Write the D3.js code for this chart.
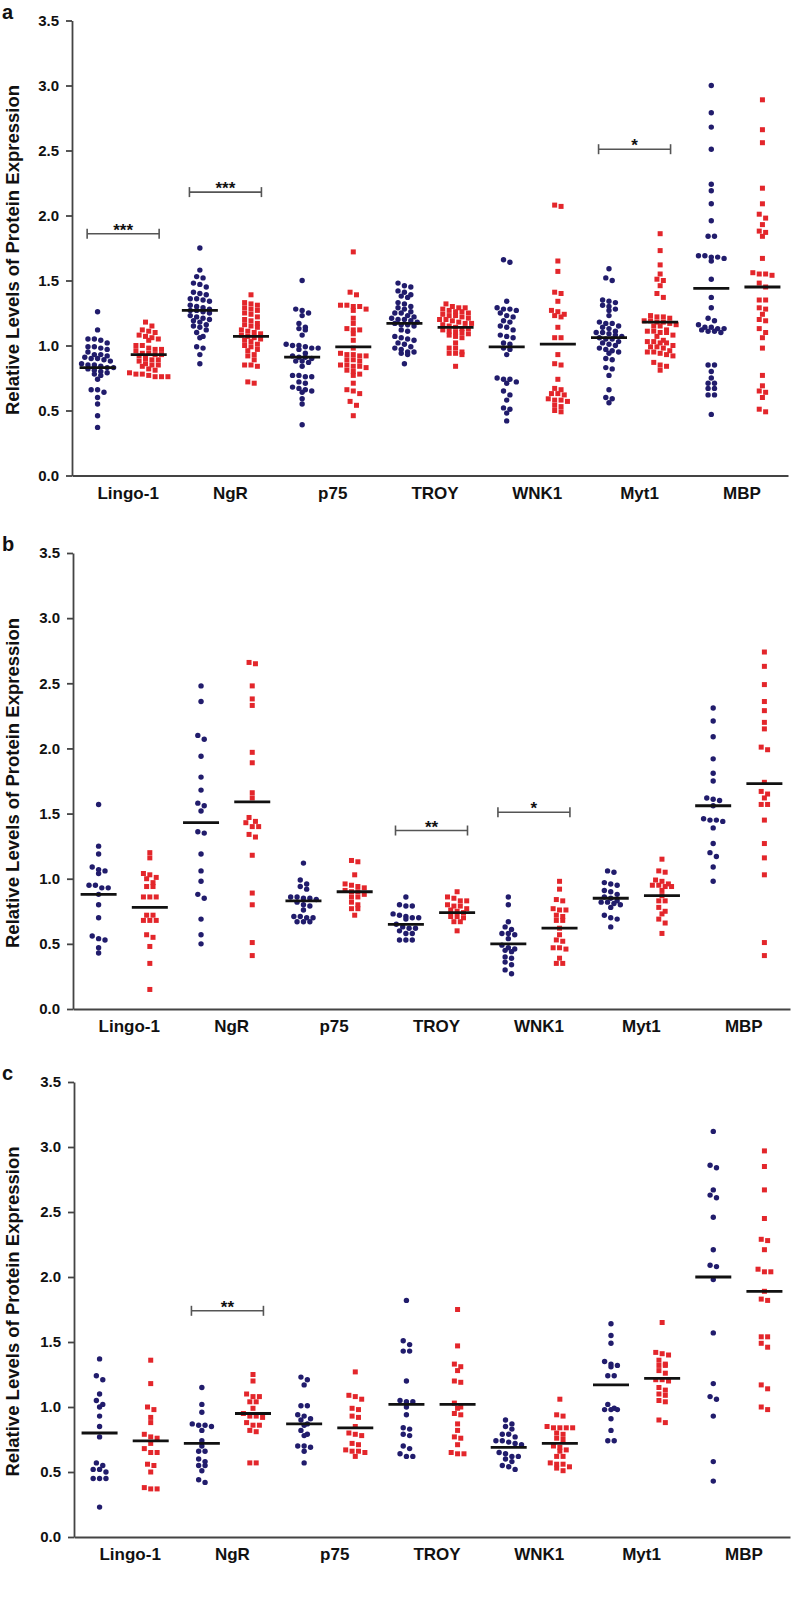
<!DOCTYPE html>
<html><head><meta charset="utf-8">
<script src="https://cdn.jsdelivr.net/npm/d3@7/dist/d3.min.js"></script>
<style>body{margin:0;background:#fff}svg{display:block}</style>
</head><body>
<script>
// ---------- DATA ----------
const categories = ["Lingo-1","NgR","p75","TROY","WNK1","Myt1","MBP"];
const groups = ["blue","red"];
const yTicks = [0,0.5,1.0,1.5,2.0,2.5,3.0,3.5];
const panelLetters = ["a","b","c"];
const yTitle = "Relative Levels of Protein Expression";

const aBlue = [
 [1.26,1.12,1.05,1.05,1.04,1.02,0.99,0.99,0.98,0.97,0.95,0.93,0.93,0.92,0.91,0.90,0.90,0.89,0.88,0.86,0.85,0.85,0.84,0.83,0.83,0.82,0.81,0.80,0.79,0.78,0.77,0.74,0.66,0.66,0.64,0.60,0.55,0.46,0.37],
 [1.75,1.58,1.53,1.52,1.48,1.47,1.45,1.41,1.40,1.39,1.36,1.36,1.35,1.34,1.31,1.30,1.29,1.28,1.27,1.27,1.26,1.25,1.23,1.22,1.21,1.20,1.19,1.18,1.16,1.15,1.14,1.12,1.10,1.07,1.06,0.99,0.98,0.93,0.86],
 [1.50,1.28,1.27,1.25,1.23,1.17,1.14,1.13,1.12,1.08,1.01,1.00,1.00,0.99,0.98,0.98,0.97,0.94,0.92,0.91,0.91,0.90,0.88,0.88,0.87,0.84,0.77,0.77,0.76,0.76,0.72,0.71,0.68,0.67,0.66,0.65,0.64,0.59,0.55,0.39],
 [1.48,1.46,1.45,1.42,1.41,1.39,1.38,1.37,1.33,1.32,1.30,1.29,1.28,1.26,1.25,1.25,1.23,1.22,1.21,1.20,1.20,1.19,1.18,1.17,1.16,1.16,1.15,1.12,1.11,1.07,1.06,1.05,1.04,1.02,1.01,0.99,0.98,0.97,0.95,0.95,0.94,0.93,0.86],
 [1.66,1.64,1.34,1.29,1.28,1.28,1.27,1.25,1.23,1.22,1.19,1.18,1.15,1.14,1.12,1.08,1.07,1.06,1.02,1.01,0.98,0.97,0.93,0.75,0.74,0.74,0.72,0.71,0.65,0.62,0.58,0.52,0.51,0.48,0.42],
 [1.59,1.52,1.50,1.35,1.34,1.33,1.31,1.30,1.28,1.27,1.23,1.18,1.17,1.17,1.15,1.14,1.13,1.11,1.10,1.10,1.09,1.08,1.07,1.06,1.05,1.05,1.03,1.02,1.01,1.00,0.98,0.97,0.96,0.95,0.94,0.90,0.89,0.83,0.82,0.77,0.66,0.60,0.59,0.56],
 [3.00,2.79,2.68,2.51,2.24,2.19,2.09,1.96,1.84,1.84,1.69,1.68,1.67,1.68,1.69,1.65,1.51,1.37,1.29,1.21,1.19,1.16,1.14,1.13,1.12,1.13,1.14,1.11,1.10,1.11,0.85,0.85,0.80,0.75,0.71,0.71,0.67,0.67,0.62,0.62,0.47]
];
const aRed = [
 [1.18,1.15,1.12,1.11,1.10,1.08,1.07,1.06,1.05,1.04,1.00,1.00,0.98,0.97,0.97,0.96,0.94,0.94,0.93,0.93,0.92,0.90,0.89,0.89,0.88,0.86,0.85,0.85,0.84,0.82,0.81,0.79,0.78,0.78,0.77,0.76,0.76,0.76],
 [1.39,1.33,1.32,1.31,1.29,1.28,1.27,1.25,1.24,1.22,1.20,1.19,1.17,1.16,1.15,1.14,1.12,1.11,1.10,1.09,1.08,1.07,1.06,1.05,1.04,1.03,1.01,1.00,0.99,0.97,0.96,0.93,0.92,0.89,0.85,0.85,0.84,0.72,0.71],
 [1.72,1.41,1.39,1.31,1.31,1.30,1.30,1.28,1.27,1.21,1.17,1.13,1.12,1.12,1.09,1.04,0.98,0.94,0.93,0.93,0.92,0.92,0.89,0.89,0.88,0.85,0.85,0.84,0.84,0.83,0.81,0.80,0.78,0.77,0.71,0.66,0.65,0.63,0.57,0.54,0.46],
 [1.32,1.30,1.29,1.29,1.28,1.27,1.26,1.26,1.25,1.24,1.23,1.23,1.22,1.21,1.20,1.20,1.19,1.18,1.17,1.17,1.16,1.15,1.14,1.13,1.13,1.12,1.11,1.10,1.10,1.09,1.08,1.07,1.06,1.02,0.98,0.98,0.95,0.94,0.94,0.93,0.84],
 [2.08,2.07,1.65,1.57,1.41,1.40,1.34,1.27,1.26,1.24,1.23,1.22,1.14,1.06,1.06,0.93,0.86,0.85,0.74,0.67,0.66,0.63,0.63,0.62,0.59,0.58,0.58,0.57,0.54,0.53,0.50,0.49],
 [1.86,1.73,1.62,1.55,1.51,1.50,1.46,1.40,1.37,1.23,1.22,1.22,1.21,1.19,1.19,1.18,1.18,1.17,1.16,1.15,1.15,1.12,1.11,1.11,1.10,1.10,1.08,1.07,1.04,1.03,1.03,1.02,1.02,1.00,0.99,0.99,0.98,0.96,0.95,0.95,0.94,0.93,0.92,0.87,0.85,0.84,0.81],
 [2.89,2.66,2.56,2.21,2.09,2.01,1.98,1.93,1.88,1.87,1.84,1.67,1.56,1.55,1.55,1.54,1.48,1.45,1.35,1.35,1.29,1.28,1.24,1.20,1.19,1.13,1.10,1.06,0.98,0.77,0.69,0.65,0.64,0.60,0.51,0.49]
];
const aBlueLine = [0.83,1.27,0.91,1.17,0.99,1.06,1.44];
const aRedLine  = [0.93,1.07,0.99,1.14,1.01,1.18,1.45];
const aSigCats = ["Lingo-1","NgR","Myt1"];
const aSigValues = [1.86,2.18,2.51];
const aSigLabels = ["***","***","*"];

const bBlue = [
 [1.57,1.25,1.19,1.09,1.07,1.06,1.04,0.95,0.95,0.93,0.93,0.88,0.80,0.70,0.56,0.54,0.53,0.47,0.43],
 [2.48,2.36,2.10,2.07,1.94,1.78,1.68,1.58,1.56,1.52,1.36,1.35,1.19,1.06,0.98,0.88,0.85,0.69,0.57,0.50],
 [1.12,0.99,0.96,0.94,0.92,0.86,0.86,0.85,0.85,0.84,0.82,0.80,0.79,0.76,0.71,0.71,0.70,0.70,0.67,0.67,0.67],
 [0.86,0.80,0.79,0.79,0.73,0.72,0.71,0.70,0.70,0.69,0.65,0.63,0.62,0.62,0.60,0.58,0.58,0.53,0.53,0.53],
 [0.86,0.80,0.67,0.63,0.61,0.58,0.58,0.57,0.54,0.49,0.47,0.46,0.45,0.44,0.40,0.39,0.36,0.34,0.30,0.27],
 [1.06,1.05,0.97,0.96,0.95,0.91,0.90,0.88,0.86,0.85,0.83,0.82,0.82,0.81,0.80,0.78,0.72,0.70,0.69,0.63],
 [2.31,2.21,2.09,1.92,1.81,1.75,1.62,1.61,1.60,1.56,1.46,1.45,1.45,1.44,1.39,1.27,1.20,1.17,1.09,0.98]
];
const bRed = [
 [1.20,1.16,1.04,1.03,1.01,1.00,0.97,0.94,0.94,0.86,0.86,0.86,0.72,0.72,0.68,0.68,0.68,0.57,0.55,0.48,0.35,0.15],
 [2.66,2.65,2.48,2.38,2.33,1.97,1.89,1.66,1.62,1.47,1.44,1.43,1.40,1.40,1.34,1.32,1.18,0.89,0.80,0.51,0.41],
 [1.14,1.13,1.03,0.96,0.95,0.94,0.93,0.91,0.90,0.90,0.88,0.86,0.86,0.82,0.80,0.77,0.77,0.72],
 [0.90,0.86,0.85,0.83,0.83,0.80,0.79,0.79,0.77,0.76,0.75,0.74,0.71,0.71,0.70,0.67,0.67,0.60],
 [0.98,0.92,0.84,0.83,0.77,0.76,0.76,0.72,0.71,0.68,0.68,0.62,0.57,0.53,0.52,0.47,0.47,0.46,0.39,0.35,0.35],
 [1.15,1.06,1.05,0.99,0.98,0.96,0.95,0.95,0.94,0.94,0.91,0.87,0.83,0.83,0.78,0.75,0.73,0.69,0.66,0.58],
 [2.74,2.63,2.49,2.36,2.29,2.20,2.15,2.01,1.99,1.74,1.67,1.65,1.62,1.57,1.57,1.45,1.27,1.16,1.03,0.51,0.41]
];
const bBlueLine = [0.88,1.43,0.83,0.65,0.50,0.85,1.56];
const bRedLine  = [0.78,1.59,0.90,0.74,0.62,0.87,1.73];
const bSigCats = ["TROY","WNK1"];
const bSigValues = [1.37,1.51];
const bSigLabels = ["**","*"];

const cBlue = [
 [1.37,1.24,1.21,1.10,1.05,1.02,1.00,0.93,0.85,0.77,0.57,0.55,0.52,0.52,0.50,0.45,0.45,0.45,0.23],
 [1.15,1.02,0.96,0.87,0.86,0.86,0.85,0.82,0.74,0.70,0.66,0.66,0.60,0.58,0.55,0.55,0.51,0.44,0.42],
 [1.23,1.21,1.17,1.01,1.01,0.94,0.93,0.91,0.90,0.87,0.86,0.82,0.79,0.78,0.70,0.70,0.69,0.66,0.57],
 [1.82,1.51,1.48,1.43,1.43,1.20,1.05,1.04,1.04,1.00,0.94,0.84,0.83,0.79,0.78,0.70,0.68,0.64,0.62,0.62],
 [0.90,0.87,0.85,0.83,0.79,0.79,0.77,0.74,0.74,0.73,0.72,0.71,0.65,0.64,0.62,0.62,0.60,0.58,0.55,0.54,0.52],
 [1.64,1.55,1.49,1.35,1.33,1.32,1.31,1.24,1.24,1.02,0.99,0.98,0.98,0.98,0.91,0.82,0.74,0.74],
 [3.12,2.86,2.84,2.67,2.63,2.61,2.46,2.21,2.09,2.08,1.98,1.57,1.18,1.08,1.06,0.93,0.58,0.43]
];
const cRed = [
 [1.36,1.18,1.00,0.98,0.92,0.88,0.79,0.77,0.76,0.72,0.68,0.65,0.65,0.56,0.55,0.50,0.38,0.37,0.37],
 [1.25,1.20,1.10,1.08,1.08,1.04,1.04,0.99,0.95,0.93,0.92,0.93,0.88,0.86,0.86,0.82,0.81,0.57,0.57],
 [1.27,1.09,1.08,1.06,0.99,0.98,0.93,0.92,0.85,0.80,0.79,0.78,0.72,0.71,0.67,0.66,0.66,0.65,0.62],
 [1.75,1.47,1.33,1.31,1.28,1.20,1.19,1.03,1.00,0.99,0.95,0.94,0.87,0.82,0.77,0.76,0.71,0.65,0.64,0.64],
 [1.06,0.94,0.93,0.85,0.84,0.84,0.84,0.84,0.80,0.79,0.76,0.75,0.70,0.69,0.67,0.66,0.62,0.62,0.57,0.56,0.56,0.54,0.53,0.51],
 [1.65,1.42,1.41,1.40,1.36,1.33,1.32,1.32,1.28,1.26,1.21,1.21,1.20,1.15,1.13,1.10,1.09,1.05,1.04,0.90,0.88],
 [2.97,2.85,2.67,2.45,2.29,2.28,2.21,2.06,2.04,2.04,1.89,1.83,1.82,1.54,1.54,1.49,1.46,1.17,1.14,1.00,0.98]
];
const cBlueLine = [0.80,0.72,0.87,1.02,0.69,1.17,2.00];
const cRedLine  = [0.74,0.95,0.84,1.02,0.72,1.22,1.89];
const cSigCats = ["NgR"];
const cSigValues = [1.74];
const cSigLabels = ["**"];

// ---------- LAYOUT ----------
const W = 793, H = 1599;
const BLUE = "#211c6c", RED = "#e3262b", AXIS = "#444";
const FONT = "'Liberation Sans', Arial, Helvetica, sans-serif";

const panels = [
  {letter: panelLetters[0], blue: aBlue, red: aRed, bl: aBlueLine, rl: aRedLine, sc: aSigCats, sv: aSigValues, sl: aSigLabels, top: 20.5, bottom: 475.5, left: 72, right: 788},
  {letter: panelLetters[1], blue: bBlue, red: bRed, bl: bBlueLine, rl: bRedLine, sc: bSigCats, sv: bSigValues, sl: bSigLabels, top: 553, bottom: 1009, left: 73, right: 790},
  {letter: panelLetters[2], blue: cBlue, red: cRed, bl: cBlueLine, rl: cRedLine, sc: cSigCats, sv: cSigValues, sl: cSigLabels, top: 1082, bottom: 1537, left: 74, right: 790}
];

const svg = d3.select("body").append("svg").attr("width", W).attr("height", H)
  .style("font-family", FONT);
svg.append("rect").attr("width", W).attr("height", H).attr("fill", "#fff");

// Prism-style row layout: points binned into rows, spread symmetrically
function swarm(vals, y, cx, dx, rowPx) {
  const sorted = vals.slice().sort((a, b) => b - a);
  const rows = [];
  let cur = null;
  sorted.forEach(v => {
    const py = y(v);
    if (cur && py - cur.start < rowPx) cur.items.push(v);
    else { cur = {start: py, items: [v]}; rows.push(cur); }
  });
  const out = [];
  rows.forEach(r => {
    const n = r.items.length;
    r.items.forEach((v, i) => out.push({v, x: cx + (i - (n - 1) / 2) * dx, y: y(v)}));
  });
  return out;
}

panels.forEach(p => {
  const g = svg.append("g");
  const y = d3.scaleLinear().domain([0, 3.5]).range([p.bottom, p.top]);
  const x = d3.scaleBand().domain(categories).range([p.left, p.right]);
  const xg = d3.scaleBand().domain(groups).range([0, x.bandwidth()]);

  // y axis
  const ya = g.append("g").attr("transform", `translate(${p.left},0)`)
    .call(d3.axisLeft(y).tickValues(yTicks).tickFormat(d3.format(".1f")).tickSize(6).tickSizeOuter(0).tickPadding(7));
  ya.select(".domain").attr("stroke", AXIS).attr("stroke-width", 1.8);
  ya.selectAll(".tick line").attr("stroke", AXIS).attr("stroke-width", 1.8);
  ya.selectAll(".tick text").attr("fill", "#111").style("font-size", "15px").style("font-weight", "bold").style("font-family", FONT);

  // x axis
  const xa = g.append("g").attr("transform", `translate(0,${p.bottom})`)
    .call(d3.axisBottom(x).tickSize(0).tickSizeOuter(0));
  xa.select(".domain").attr("stroke", AXIS).attr("stroke-width", 1.8);
  xa.selectAll(".tick text").attr("fill", "#111").attr("y", 23).attr("dy", null).attr("x", 5)
    .style("font-size", "17px").style("font-weight", "bold").style("font-family", FONT);

  // y title
  g.append("text")
    .attr("transform", `translate(12,${(p.top + p.bottom) / 2 + 2}) rotate(-90)`)
    .attr("text-anchor", "middle").attr("dominant-baseline", "central")
    .style("font-size", "18.5px").style("font-weight", "bold").attr("fill", "#111")
    .text(yTitle);

  // panel letter
  g.append("text").attr("x", 2).attr("y", p.top - 2)
    .style("font-size", "20px").style("font-weight", "bold").attr("fill", "#111")
    .text(p.letter);

  // points
  categories.forEach((c, ci) => {
    const cxB = x(c) + xg("blue") + xg.bandwidth() / 2;
    const cxR = x(c) + xg("red") + xg.bandwidth() / 2;
    const bPts = swarm(p.blue[ci], y, cxB, 6.4, 4.6);
    const rPts = swarm(p.red[ci], y, cxR, 6.4, 4.6);
    g.append("g").selectAll("circle").data(bPts).join("circle")
      .attr("cx", d => d.x).attr("cy", d => d.y).attr("r", 2.7).attr("fill", BLUE);
    g.append("g").selectAll("rect").data(rPts).join("rect")
      .attr("x", d => d.x - 2.5).attr("y", d => d.y - 2.5).attr("width", 5).attr("height", 5).attr("fill", RED);
    // center lines
    [[cxB, p.bl[ci]], [cxR, p.rl[ci]]].forEach(([cx, v]) => {
      g.append("line").attr("x1", cx - 18).attr("x2", cx + 18).attr("y1", y(v)).attr("y2", y(v))
        .attr("stroke", "#111").attr("stroke-width", 2.8);
    });
  });

  // significance brackets
  p.sc.forEach((c, i) => {
    const cx = x(c) + x.bandwidth() / 2;
    const yy = y(p.sv[i]);
    const x1 = cx - 36, x2 = cx + 36;
    const bg = g.append("g").attr("stroke", "#555").attr("stroke-width", 1.6);
    bg.append("line").attr("x1", x1).attr("x2", x2).attr("y1", yy).attr("y2", yy);
    bg.append("line").attr("x1", x1).attr("x2", x1).attr("y1", yy - 5).attr("y2", yy + 5);
    bg.append("line").attr("x1", x2).attr("x2", x2).attr("y1", yy - 5).attr("y2", yy + 5);
    g.append("text").attr("x", cx).attr("y", yy + 2).attr("text-anchor", "middle")
      .style("font-size", "17px").style("font-weight", "bold").attr("fill", "#111")
      .text(p.sl[i]);
  });
});
</script>
</body></html>
